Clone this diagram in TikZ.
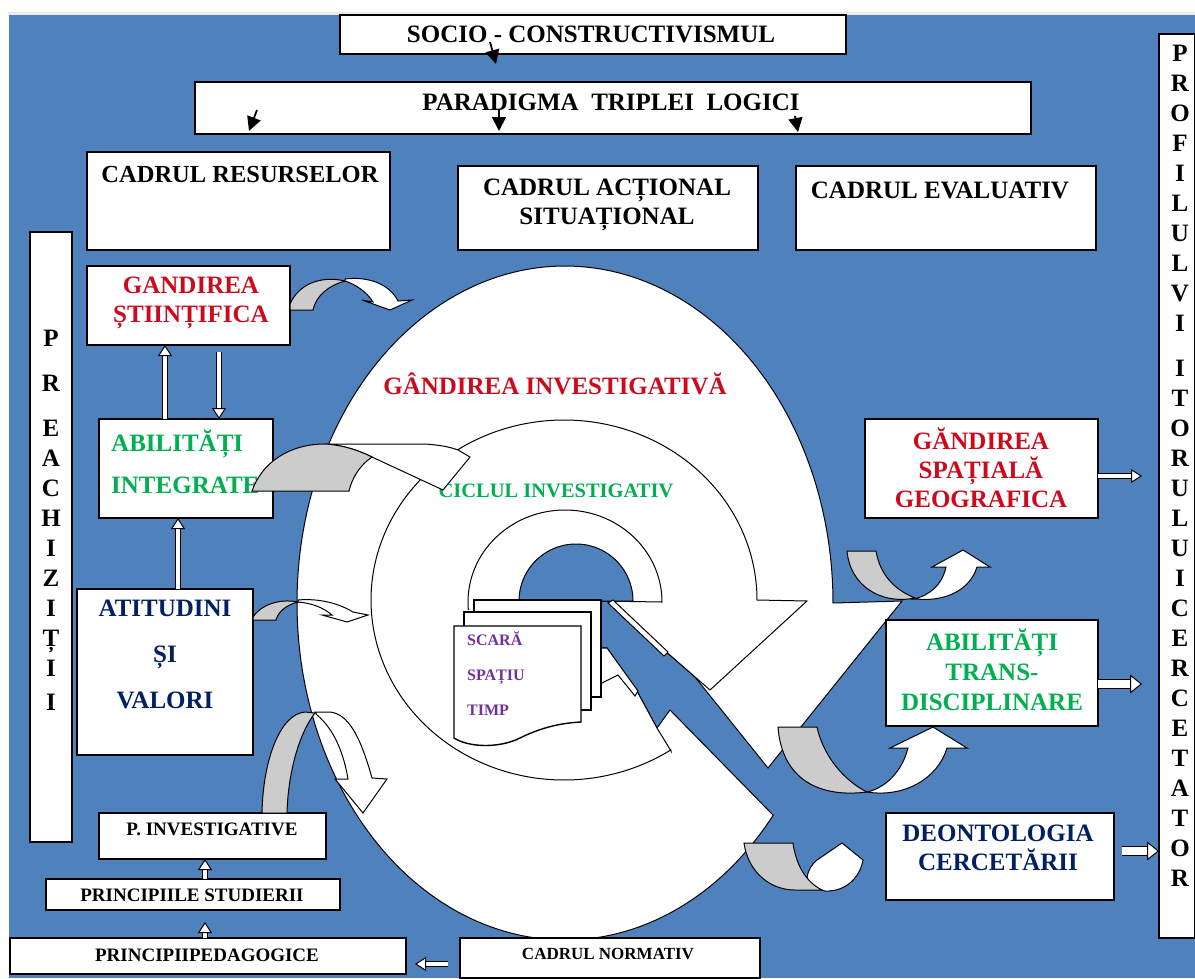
\documentclass[tikz,border=0pt]{standalone}
\usepackage{fontspec}
\setmainfont{Liberation Serif}
\usetikzlibrary{arrows.meta,calc}
\definecolor{bluebg}{HTML}{4F81BD}
\definecolor{greyfold}{HTML}{CCCCCC}
\definecolor{redtxt}{HTML}{CC0A1E}
\definecolor{greentxt}{HTML}{00B050}
\definecolor{navytxt}{HTML}{002060}
\definecolor{purpletxt}{HTML}{7030A0}
\tikzset{
  boxn/.style={draw=black,fill=white,line width=1.5pt,inner sep=0pt,outer sep=0pt,anchor=north west},
  big/.style={font=\bfseries\fontsize{25}{29}\selectfont,align=center,inner sep=0pt},
  mid/.style={font=\bfseries\fontsize{19}{23}\selectfont,align=center,inner sep=0pt},
  shape line/.style={draw=black,line width=1pt,fill=white,line join=miter},
  fold/.style={draw=black,line width=1pt,fill=greyfold,line join=miter},
  foldw/.style={draw=black,line width=1pt,fill=white,line join=miter},
  blk/.style={line width=1pt,draw=black,double=white,double distance=4pt,
    -{Triangle[length=11pt,width=14pt,fill=white,line width=1pt]}},
  blkb/.style={line width=1pt,draw=black,double=white,double distance=8pt,
    -{Triangle[length=12pt,width=19pt,fill=white,line width=1pt]}},
  thin arrow/.style={line width=1.8pt,-{Triangle[length=14pt,width=14pt]}},
}
\newcommand{\BX}[5]{\node[boxn,minimum width={(#4-#2)*1pt},minimum height={(#5-#3)*1pt}] (#1) at (#2,#3) {};}
\begin{document}
\begin{tikzpicture}[x=1pt,y=-1pt]
\useasboundingbox (0,0) rectangle (1195,978);
\fill[white] (0,0) rectangle (1195,978);
\fill[black!8] (8,12) rectangle (1195,16);
\fill[bluebg] (9,15) rectangle (1195,978);

% outer spiral
\path[shape line] (773,815) -- plot[domain=39:360,samples=160,smooth] ({565+268*cos(\x)},{603+337*sin(\x)})
  -- (902,601) -- (768,768) -- (695,677) -- (608,601) -- (600,601) -- (600,648) -- (607,648)
  -- (638,693) -- (657,728) -- (670,710) -- cycle;
% middle spiral
\path[shape line] (671,751) -- plot[domain=56.4:360,samples=160,smooth] ({564+193*cos(\x)},{600+180*sin(\x)})
  -- (807,601) -- (710,690) -- (608,601) -- (600,601) -- (600,648) -- (607,648)
  -- (638,693) -- (657,728) -- cycle;
% inner spiral
\path[shape line] plot[domain=175:360,samples=90,smooth] ({565+97*cos(\x)},{602+92*sin(\x)}) -- (600,601);
\path[shape line,fill=bluebg] plot[domain=180:360,samples=80,smooth] ({576+57*cos(\x)},{601+57*sin(\x)}) -- cycle;
\path[shape line] (608,603) -- (613,600) -- (668,652) -- (664,656) -- cycle;
\path[shape line] (600,648) -- (607,648) -- (638,691) -- (635,696) -- (618,675) -- (600,684);

% pages
\path[draw=black,line width=1.4pt,fill=white] (474,600) rectangle (601,697);
\path[draw=black,line width=1.4pt,fill=white] (464,612) rectangle (591,710);
\path[draw=black,line width=1.4pt,fill=white] (454,626) -- (581,626) -- (581,722)
  .. controls (560,723) and (540,728) .. (520,738)
  .. controls (500,748) and (470,748) .. (454,738) -- cycle;

% boxes
\BX{soc}{340}{15}{846}{54}
\BX{par}{195}{82}{1031}{134}
\BX{res}{87}{152}{390}{250}
\BX{act}{458}{166}{758}{250}
\BX{eva}{796}{166}{1096}{250}
\BX{pre}{30}{232}{72}{842}
\BX{gst}{87}{266}{290}{345}
\BX{abi}{99}{419}{273}{518}
\BX{ati}{77}{589}{253}{755}
\BX{pin}{99}{813}{326}{859}
\BX{pst}{46}{879}{340}{910}
\BX{ppe}{10}{938}{406}{974}
\BX{nor}{460}{938}{760}{978}
\BX{gsp}{865}{419}{1098}{518}
\BX{atr}{886}{620}{1098}{726}
\BX{deo}{886}{813}{1114}{900}
\BX{pro}{1159}{34}{1195}{938}

% texts
\node[big] (tsoc) at (591,34) {SOCIO - CONSTRUCTIVISMUL};
\node[big] (tpar) at (611,102) {PARADIGMA\ \ TRIPLEI\ \ LOGICI};
\node[big,font=\bfseries\fontsize{24.5}{29}\selectfont] (tres) at (240,175) {CADRUL RESURSELOR};
\node[big] (tact) at (607,205) {CADRUL ACȚIONAL\\[0pt]SITUAȚIONAL};
\node[big] (teva) at (940,190) {CADRUL EVALUATIV};
\node[big,font=\bfseries\fontsize{25}{30}\selectfont] (tpre) at (51,520) {P\\[15pt]R\\[15pt]E\\A\\C\\H\\I\\Z\\I\\Ț\\I\\[4pt]I};
\node[big,text=redtxt] (tgst) at (191,303) {GANDIREA\\ȘTIINȚIFICA};
\node[big,text=greentxt,align=left,anchor=west,font=\bfseries\fontsize{25}{42}\selectfont] (tabi) at (111,462) {ABILITĂȚI\\INTEGRATE};
\node[big,text=navytxt,font=\bfseries\fontsize{25}{46}\selectfont] (tati) at (165,654) {ATITUDINI\\ȘI\\VALORI};
\node[mid] (tpin) at (212,829) {P. INVESTIGATIVE};
\node[mid] (tpst) at (192,895) {PRINCIPIILE STUDIERII};
\node[mid] (tppe) at (207,955) {PRINCIPIIPEDAGOGICE};
\node[mid,font=\bfseries\fontsize{17}{20}\selectfont] (tnor) at (608,954) {CADRUL NORMATIV};
\node[big,text=redtxt] (tgin) at (555,384) {GÂNDIREA INVESTIGATIVĂ};
\node[big,text=greentxt,font=\bfseries\fontsize{20.5}{24}\selectfont] (tcic) at (556,491) {CICLUL INVESTIGATIV};
\node[big,text=purpletxt,align=left,anchor=west,font=\bfseries\fontsize{16}{35}\selectfont] (tdoc) at (467,674) {SCARĂ\\SPAȚIU\\TIMP};
\node[big,text=redtxt] (tgsp) at (981,468) {GĂNDIREA\\SPAȚIALĂ\\GEOGRAFICA};
\node[big,text=greentxt,font=\bfseries\fontsize{25}{30}\selectfont] (tatr) at (992,670) {ABILITĂȚI\\TRANS-\\DISCIPLINARE};
\node[big,text=navytxt] (tdeo) at (998,848) {DEONTOLOGIA\\CERCETĂRII};
\node[big,font=\bfseries\fontsize{25}{30}\selectfont] (tpro) at (1180,466) {P\\R\\O\\F\\I\\L\\U\\L\\V\\I\\[15pt]I\\T\\O\\R\\U\\L\\U\\I\\C\\E\\R\\C\\E\\T\\A\\T\\O\\R};

% hollow connectors
\draw[blk] (165,0 |- abi.north) -- (165,0 |- gst.south);
\coordinate (dstart) at (219,352);
\draw[blk] (dstart) -- (219,0 |- abi.north);
\draw[blk] (178,0 |- ati.north) -- (178,0 |- abi.south);
\draw[blk] (205,0 |- pst.north) -- (205,0 |- pin.south);
\coordinate (pupend) at (205,922);
\draw[blk] (205,0 |- ppe.north) -- (pupend);
\coordinate (nstart) at (448,964);
\coordinate (nend) at (415,964);
\draw[blk] (nstart) -- (nend);
\coordinate (g1) at (1142,476);
\draw[blk] (gsp.east |- g1) -- (g1);
\coordinate (g2) at (1142,684);
\draw[blkb] (atr.east |- g2) -- (g2);
\coordinate (g3) at (1122,851);
\draw[blkb] (g3) -- (pro.west |- g3);

% thin black arrows
\coordinate (a0) at (490,42); \coordinate (a1) at (496,64);
\draw[thin arrow] (a0) -- (a1);
\coordinate (b0) at (257,110); \coordinate (b1) at (249,131);
\draw[thin arrow] (b0) -- (b1);
\coordinate (c0) at (499,110); \coordinate (c1) at (499,131);
\draw[thin arrow] (c0) -- (c1);
\coordinate (d0) at (795,116); \coordinate (d1) at (798,132);
\draw[thin arrow] (d0) -- (d1);

% curved arrow: gandirea stiintifica
\path[fold] (290,310) -- (313,310) .. controls (316,295) and (330,285) .. (345,281)
  .. controls (320,275) and (298,285) .. (290,304) -- cycle;
\path[foldw] (345,279) .. controls (370,276) and (390,285) .. (398,301) -- (412,300) -- (390,310) -- (362,300) -- (373,302)
  .. controls (367,292) and (355,284) .. (345,281) -- cycle;
% curved arrow: abilitati integrate
\path[foldw] (325,444) -- (425,444) .. controls (440,445) and (450,447) .. (458,450) -- (470,457) -- (443,490) -- (372,457)
  .. controls (358,450) and (342,445) .. (325,444) -- cycle;
\path[fold] (252,491) .. controls (262,462) and (290,444) .. (325,444)
  .. controls (342,445) and (358,450) .. (372,457) .. controls (360,465) and (352,478) .. (349,491) -- cycle;
% curved arrow: atitudini
\path[fold] (253,620) -- (276,620) .. controls (278,612) and (286,605) .. (298,602)
  .. controls (278,598) and (260,606) .. (253,617) -- cycle;
\path[foldw] (298,600) .. controls (320,598) and (340,604) .. (353,612) -- (368,615) -- (347,622) -- (322,615) -- (332,615)
  .. controls (324,608) and (312,603) .. (298,602) -- cycle;
% curved arrow: investigative
\path[foldw] (315,712) -- (330,712) .. controls (348,714) and (360,735) .. (372,778) -- (387,779) -- (363,813) -- (335,779) -- (348,779)
  .. controls (344,755) and (335,730) .. (317,715) -- cycle;
\path[fold] (262,813) .. controls (263,760) and (280,714) .. (305,712) -- (315,713)
  .. controls (298,735) and (288,775) .. (287,813) -- cycle;
% curved arrow: gandirea spatiala
\path[foldw] (914,599) .. controls (930,595) and (942,585) .. (946,567) -- (932,567) -- (963,550) -- (990,567) -- (977,567)
  .. controls (970,590) and (945,602) .. (917,599) -- cycle;
\path[fold] (847,551) -- (876,551) .. controls (880,575) and (895,590) .. (915,598)
  .. controls (880,605) and (850,585) .. (847,551) -- cycle;
% curved arrow: transdisciplinare
\path[foldw] (867,792) .. controls (885,788) and (902,772) .. (908,748) -- (890,748) -- (933,727) -- (967,748) -- (947,748)
  .. controls (938,778) and (905,798) .. (867,792) -- cycle;
\path[fold] (778,727) -- (817,727) .. controls (823,755) and (843,780) .. (867,792)
  .. controls (820,798) and (782,780) .. (778,727) -- cycle;
% curved arrow: deontologia
\path[foldw] (807,878) .. controls (808,870) and (812,864) .. (817,860) -- (842,843) -- (863,860)
  .. controls (860,878) and (845,892) .. (825,891) .. controls (817,889) and (810,884) .. (807,878) -- cycle;
\path[fold] (744,843) -- (793,843) .. controls (796,865) and (806,882) .. (822,890) -- (795,890)
  .. controls (770,890) and (748,872) .. (744,843) -- cycle;
\end{tikzpicture}
\end{document}
